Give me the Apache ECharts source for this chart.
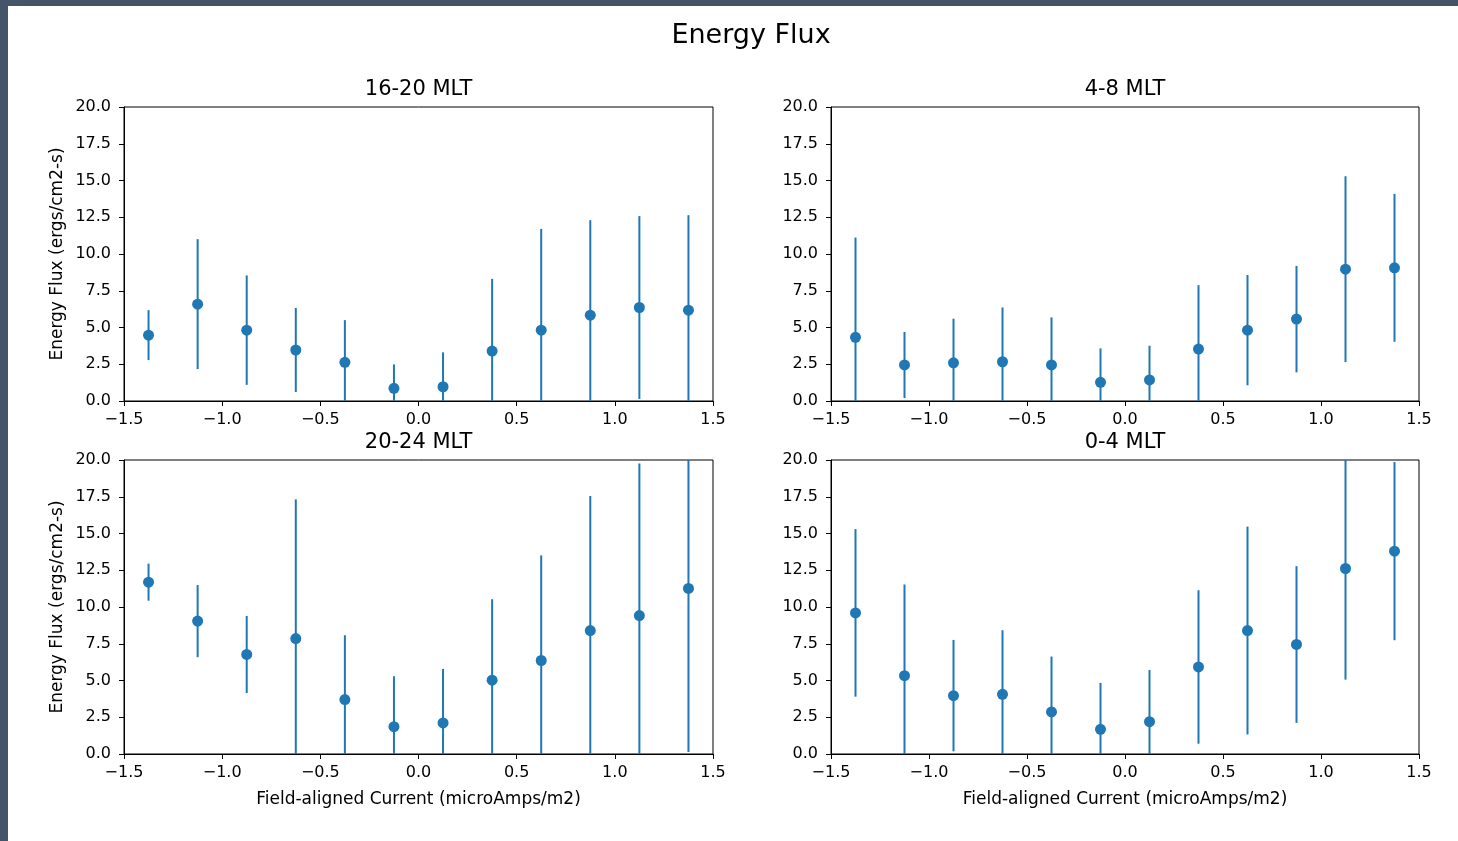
<!DOCTYPE html>
<html>
<head>
<meta charset="utf-8">
<script src="https://cdn.jsdelivr.net/npm/echarts@6/dist/echarts.min.js"></script>
<style>
html,body{margin:0;padding:0;background:#fff;}
#c{width:1458px;height:841px;}
</style>
</head>
<body>
<div id="c"></div>
<script>
// x positions (bin centres, microAmps/m2)
const xBins = [-1.375, -1.125, -0.875, -0.625, -0.375, -0.125, 0.125, 0.375, 0.625, 0.875, 1.125, 1.375];

// 16-20 MLT
const flux1620 = [4.48, 6.59, 4.82, 3.47, 2.63, 0.86, 0.97, 3.40, 4.82, 5.84, 6.36, 6.18];
const err1620  = [1.70, 4.42, 3.72, 2.86, 2.87, 1.63, 2.34, 4.91, 6.89, 6.46, 6.22, 6.46];
// 4-8 MLT
const flux48 = [4.33, 2.45, 2.60, 2.67, 2.45, 1.27, 1.43, 3.53, 4.82, 5.57, 8.97, 9.06];
const err48  = [6.79, 2.25, 3.00, 3.69, 3.24, 2.31, 2.33, 4.35, 3.75, 3.62, 6.32, 5.03];
// 20-24 MLT
const flux2024 = [11.69, 9.04, 6.77, 7.85, 3.70, 1.86, 2.11, 5.02, 6.36, 8.40, 9.42, 11.26];
const err2024  = [1.26, 2.45, 2.62, 9.47, 4.38, 3.43, 3.68, 5.51, 7.15, 9.15, 10.35, 11.12];
// 0-4 MLT
const flux04 = [9.60, 5.33, 3.97, 4.06, 2.86, 1.68, 2.20, 5.92, 8.40, 7.45, 12.62, 13.80];
const err04  = [5.70, 6.20, 3.79, 4.36, 3.77, 3.16, 3.52, 5.22, 7.07, 5.33, 7.56, 6.06];

const panelTitles = ['16-20 MLT', '4-8 MLT', '20-24 MLT', '0-4 MLT'];
const yAxisTitle = 'Energy Flux (ergs/cm2-s)';
const xAxisTitle = 'Field-aligned Current (microAmps/m2)';
const mainTitle = 'Energy Flux';

const X_MIN = -1.5, X_MAX = 1.5, X_STEP = 0.5;
const Y_MIN = 0, Y_MAX = 20, Y_STEP = 2.5;

const panels = [
  {flux: flux1620, err: err1620},
  {flux: flux48, err: err48},
  {flux: flux2024, err: err2024},
  {flux: flux04, err: err04}
];

const COLOR = '#1f77b4';
const FONT = 'DejaVu Sans';
const grids = [
  {left: 124, top: 107, width: 589, height: 294},
  {left: 831, top: 107, width: 588, height: 294},
  {left: 124, top: 460, width: 589, height: 294},
  {left: 831, top: 460, width: 588, height: 294}
];

const fmt = v => v.toFixed(1).replace('-', '\u2212');

const option = {
  backgroundColor: '#fff',
  animation: false,
  title: [
    {text: mainTitle, left: 751, top: 22, textAlign: 'center', padding: 0,
     textStyle: {fontFamily: FONT, fontSize: 27, fontWeight: 'normal', color: '#000'}}
  ].concat(grids.map((g, i) => ({
    text: panelTitles[i], left: g.left + g.width / 2, top: g.top - 28, textAlign: 'center', padding: 0,
    textStyle: {fontFamily: FONT, fontSize: 21, fontWeight: 'normal', color: '#000'}
  }))),
  graphic: [
    {type: 'rect', shape: {x: 0, y: 0, width: 1458, height: 6}, style: {fill: '#445469'}},
    {type: 'rect', shape: {x: 0, y: 0, width: 8, height: 841}, style: {fill: '#445469'}}
  ],
  grid: grids.map(g => Object.assign({show: true, borderColor: '#000', borderWidth: 1, backgroundColor: 'transparent'}, g)),
  xAxis: grids.map((g, i) => ({
    type: 'value', gridIndex: i, min: X_MIN, max: X_MAX, interval: X_STEP,
    axisLine: {show: true, onZero: false, lineStyle: {color: '#000', width: 1}},
    axisTick: {show: true, inside: false, length: 5, lineStyle: {color: '#000'}},
    splitLine: {show: false},
    axisLabel: {formatter: fmt, margin: 11, color: '#000', fontFamily: FONT, fontSize: 16},
    name: i >= 2 ? xAxisTitle : '', nameLocation: 'middle', nameGap: 37,
    nameTextStyle: {color: '#000', fontFamily: FONT, fontSize: 17}
  })),
  yAxis: grids.map((g, i) => ({
    type: 'value', gridIndex: i, min: Y_MIN, max: Y_MAX, interval: Y_STEP,
    axisLine: {show: true, onZero: false, lineStyle: {color: '#000', width: 1}},
    axisTick: {show: true, inside: false, length: 5, lineStyle: {color: '#000'}},
    splitLine: {show: false},
    axisLabel: {formatter: v => v.toFixed(1), margin: 13, color: '#000', fontFamily: FONT, fontSize: 16},
    name: (i % 2 === 0) ? yAxisTitle : '', nameLocation: 'middle', nameGap: 58,
    nameTextStyle: {color: '#000', fontFamily: FONT, fontSize: 17}
  })),
  series: []
};

panels.forEach((p, i) => {
  const data = xBins.map((x, k) => [x, p.flux[k], p.err[k]]);
  option.series.push({
    type: 'custom', xAxisIndex: i, yAxisIndex: i, data: data, z: 2,
    encode: {x: 0, y: 1},
    renderItem: function (params, api) {
      const x = api.value(0), y = api.value(1), e = api.value(2);
      const lo = Math.max(Y_MIN, y - e), hi = Math.min(Y_MAX, y + e);
      const a = api.coord([x, lo]), b = api.coord([x, hi]);
      return {type: 'line', shape: {x1: a[0], y1: a[1], x2: b[0], y2: b[1]},
              style: {stroke: COLOR, lineWidth: 2}};
    }
  });
  option.series.push({
    type: 'scatter', xAxisIndex: i, yAxisIndex: i, z: 3,
    data: data.map(d => [d[0], d[1]]),
    symbol: 'circle', symbolSize: 11,
    itemStyle: {color: COLOR, opacity: 1}
  });
});

const chart = echarts.init(document.getElementById('c'), null, {renderer: 'canvas'});
chart.setOption(option);
</script>
</body>
</html>
